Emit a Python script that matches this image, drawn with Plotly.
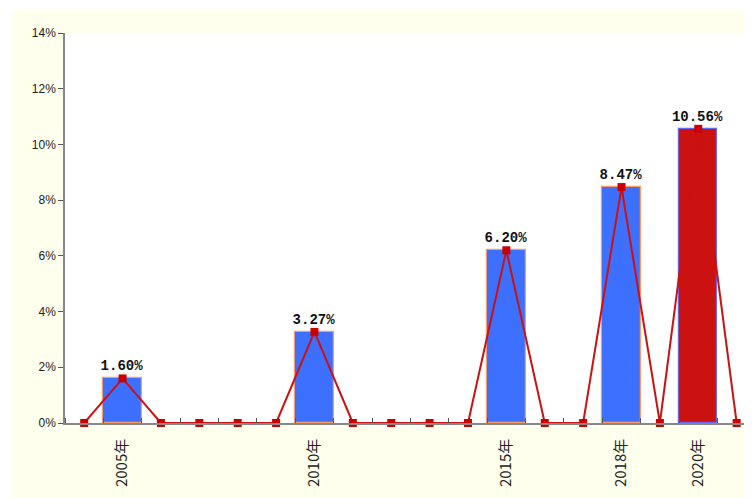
import plotly.graph_objects as go

# Data
bar_labels = ["2005年", "2010年", "2015年", "2018年", "2020年"]
bar_values = [1.60, 3.27, 6.20, 8.47, 10.56]
bar_index = [1, 6, 11, 14, 16]
line_values = [0, 1.60, 0, 0, 0, 0, 3.27, 0, 0, 0, 0, 6.20, 0, 0, 8.47, 0, 10.56, 0]
y_ticks = [0, 2, 4, 6, 8, 10, 12, 14]

# page has an 8px body margin; compensate
OFF = 8
W, H = 752 - OFF, 498 - OFF
ml, mt, mr, mb = 65 - OFF, 33 - OFF, 0, 75
pw, ph = W - ml - mr, H - mt - mb

def px_x(p):
    return (p - OFF - ml) / pw

def px_y(p):
    return (H - mb - (p - OFF)) / ph

bar_colors = ["#3D70FF"] * 4 + ["#CC1111"]
bar_lines = ["#FF9966"] * 4 + ["#6666EE"]

fig = go.Figure()
fig.add_trace(go.Bar(
    x=bar_index, y=bar_values, width=1.0,
    marker=dict(color=bar_colors, line=dict(color=bar_lines, width=1.2)),
    text=[f"{v:.2f}%" for v in bar_values], textposition="outside",
    constraintext="none",
    textfont=dict(family="Liberation Mono", size=14, color="#111", weight="bold"),
    cliponaxis=False, showlegend=False,
))
fig.add_trace(go.Scatter(
    x=list(range(len(line_values))), y=line_values, mode="lines+markers",
    line=dict(color="#CC1111", width=2),
    marker=dict(symbol="square", size=8, color="#CC0000"),
    cliponaxis=False, showlegend=False,
))

shapes = [
    dict(type="rect", xref="paper", yref="paper", x0=px_x(0), x1=px_x(760), y0=px_y(10), y1=px_y(0),
         fillcolor="white", line=dict(width=0), layer="below"),
    dict(type="rect", xref="paper", yref="paper", x0=px_x(0), x1=px_x(12), y0=px_y(510), y1=px_y(0),
         fillcolor="white", line=dict(width=0), layer="below"),
]

fig.update_layout(
    width=W, height=H,
    margin=dict(l=ml, r=mr, t=mt, b=mb),
    paper_bgcolor="#FFFFEE", plot_bgcolor="white",
    bargap=0, shapes=shapes,
    xaxis=dict(
        range=[-0.5, 17.4], tickvals=bar_index, ticktext=bar_labels,
        tickangle=-90, ticks="", showgrid=False, zeroline=False,
        showline=True, linecolor="#888888", linewidth=1.5,
        ticklabelstandoff=8,
        tickfont=dict(family="Noto Sans CJK SC", size=15, color="#222"),
        minor=dict(tick0=0.5, dtick=1, ticks="inside", ticklen=5, tickcolor="#555", showgrid=False),
    ),
    yaxis=dict(
        range=[0, 14], tickvals=y_ticks, ticktext=[f"{v}%" for v in y_ticks],
        ticks="outside", ticklen=5, tickcolor="#555",
        showgrid=False, zeroline=False, showline=True, linecolor="#888888", linewidth=1.5,
        tickfont=dict(family="Liberation Sans", size=12, color="#222"),
    ),
)

fig.write_html("out.html")
